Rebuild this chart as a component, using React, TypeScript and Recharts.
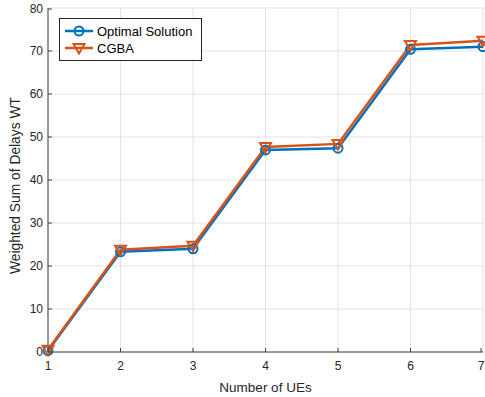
import React from "react";
import { LineChart, Line, XAxis, YAxis, CartesianGrid } from "recharts";

const UES = [1, 2, 3, 4, 5, 6, 7];
const OPTIMAL = [0.3, 23.3, 24.0, 47.0, 47.4, 70.4, 71.0];
const CGBA = [0.5, 23.8, 24.7, 47.7, 48.4, 71.4, 72.4];
const Y_TICKS = [0, 10, 20, 30, 40, 50, 60, 70, 80];

const BLUE = "#0072BD";
const ORANGE = "#D95319";
const AXIS = "#404040";
const FONT = "'Liberation Sans', Arial, sans-serif";

const data = UES.map((n, i) => ({ n, opt: OPTIMAL[i], cgba: CGBA[i] }));

const Circle = (p: any) => (
  <circle key={p.index} cx={p.cx} cy={p.cy} r={4.5} fill="none" stroke={BLUE} strokeWidth={2} />
);

const Tri = (p: any) => {
  const { cx, cy } = p;
  return (
    <path
      key={p.index}
      d={`M${cx - 5.5},${cy - 4} L${cx + 5.5},${cy - 4} L${cx},${cy + 5.5} Z`}
      fill="none"
      stroke={ORANGE}
      strokeWidth={2}
    />
  );
};

const XTick = (p: any) => {
  const { x, y, payload } = p;
  const ay = y - 8;
  return (
    <g>
      <line x1={x} x2={x} y1={ay} y2={ay - 4} stroke={AXIS} />
      <text x={x} y={y} dy={10} textAnchor="middle" fill="#262626" fontSize={12} fontFamily={FONT}>
        {payload.value}
      </text>
    </g>
  );
};

const YTick = (p: any) => {
  const { x, y, payload } = p;
  const ax = x + 5;
  return (
    <g>
      <line x1={ax} x2={ax + 4} y1={y} y2={y} stroke={AXIS} />
      <text x={x} y={y} dy={4} textAnchor="end" fill="#262626" fontSize={12} fontFamily={FONT}>
        {payload.value}
      </text>
    </g>
  );
};

const LegendBox = () => (
  <svg width={143} height={43} style={{ position: "absolute", left: 59, top: 18 }}>
    <rect x={0.5} y={0.5} width={142} height={42} fill="#fff" stroke="#262626" strokeWidth={1} />
    <line x1={6} x2={34} y1={13} y2={13} stroke={BLUE} strokeWidth={2.5} />
    <circle cx={20} cy={13} r={4.5} fill="none" stroke={BLUE} strokeWidth={2} />
    <text x={38} y={17.5} fontSize={13} fontFamily={FONT} fill="#000">Optimal Solution</text>
    <line x1={6} x2={34} y1={30} y2={30} stroke={ORANGE} strokeWidth={2.5} />
    <path d="M14.5,26 L25.5,26 L20,35.5 Z" fill="none" stroke={ORANGE} strokeWidth={2} />
    <text x={38} y={34.5} fontSize={13} fontFamily={FONT} fill="#000">CGBA</text>
  </svg>
);

export default function App() {
  return (
    <div style={{ position: "absolute", left: 0, top: 0, width: 485, height: 397, background: "#fff" }}>
      <LineChart width={485} height={397} data={data} margin={{ top: 8, right: 2, bottom: 0, left: 0 }}>
        <CartesianGrid stroke="#e3e3e3" strokeWidth={1} />
        <XAxis
          dataKey="n"
          type="number"
          domain={[1, 7]}
          ticks={UES}
          height={45}
          stroke={AXIS}
          tickSize={0}
          tickMargin={8}
          tick={<XTick />}
          label={{ value: "Number of UEs", position: "insideBottom", offset: 5, fill: "#262626", fontSize: 13.5, fontFamily: FONT }}
        />
        <YAxis
          type="number"
          domain={[0, 80]}
          ticks={Y_TICKS}
          width={48}
          stroke={AXIS}
          tickSize={0}
          tickMargin={5}
          tick={<YTick />}
          label={{ value: "Weighted Sum of Delays WT", angle: -90, position: "insideLeft", offset: 15, dy: 94, fill: "#262626", fontSize: 13.8, fontFamily: FONT }}
        />
        <Line dataKey="opt" stroke={BLUE} strokeWidth={2.5} dot={<Circle />} activeDot={false} isAnimationActive={false} />
        <Line dataKey="cgba" stroke={ORANGE} strokeWidth={2.5} dot={<Tri />} activeDot={false} isAnimationActive={false} />
      </LineChart>
      <LegendBox />
    </div>
  );
}
